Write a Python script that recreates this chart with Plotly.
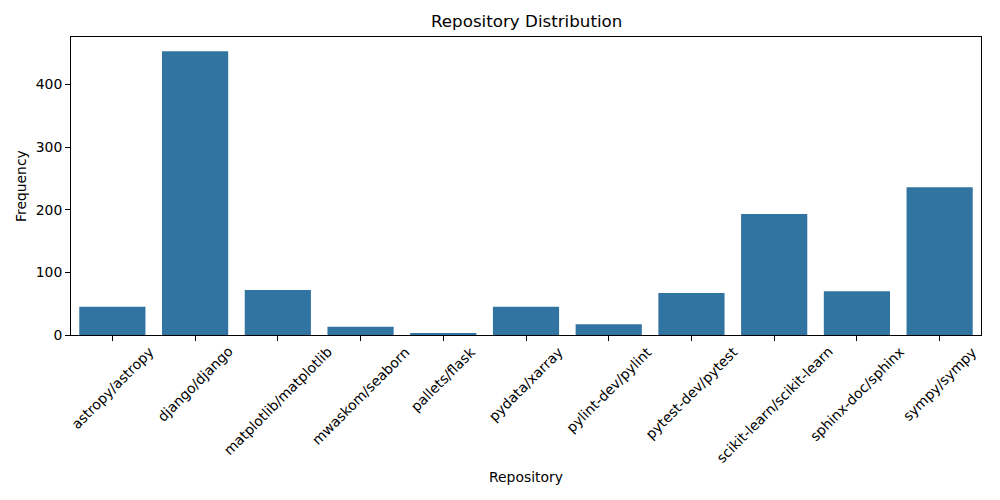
import plotly.graph_objects as go

repositories = ["astropy/astropy", "django/django", "matplotlib/matplotlib", "mwaskom/seaborn",
                "pallets/flask", "pydata/xarray", "pylint-dev/pylint", "pytest-dev/pytest",
                "scikit-learn/scikit-learn", "sphinx-doc/sphinx", "sympy/sympy"]
frequency = [45, 453, 72, 13, 3, 45, 17, 67, 193, 70, 236]
y_ticks = [0, 100, 200, 300, 400]

FONT = "DejaVu Sans"
x_idx = list(range(len(repositories)))

fig = go.Figure(go.Bar(x=x_idx, y=frequency, width=0.8, marker=dict(color="#3274a1", line=dict(width=0))))

annotations = []
for i, name in enumerate(repositories):
    annotations.append(dict(x=i, y=0, xref="x", yref="paper", text=name, showarrow=False,
                            textangle=-45, xanchor="center", yanchor="top", yshift=-6,
                            font=dict(family=FONT, size=13.9, color="black")))
annotations.append(dict(x=0.5, y=1, xref="paper", yref="paper", text="Repository Distribution",
                        showarrow=False, xanchor="center", yanchor="bottom", yshift=4,
                        font=dict(family=FONT, size=16.7, color="black")))
annotations.append(dict(x=0.5, y=0, xref="paper", yref="paper", text="Repository",
                        showarrow=False, xanchor="center", yanchor="middle", yshift=-142,
                        font=dict(family=FONT, size=13.9, color="black")))
annotations.append(dict(x=0, y=0.5, xref="paper", yref="paper", text="Frequency",
                        showarrow=False, textangle=-90, xanchor="center", yanchor="middle", xshift=-50,
                        font=dict(family=FONT, size=13.9, color="black")))

fig.update_layout(
    width=1000, height=500,
    margin=dict(l=71, r=19, t=37, b=165, pad=0),
    plot_bgcolor="white", paper_bgcolor="white",
    showlegend=False,
    font=dict(family=FONT, size=13.9, color="black"),
    annotations=annotations,
    xaxis=dict(range=[-0.5, len(repositories) - 0.5], tickvals=x_idx, showticklabels=False,
               ticks="outside", ticklen=5, tickwidth=1, tickcolor="black",
               showline=True, linecolor="black", linewidth=1, mirror=True,
               showgrid=False, zeroline=False),
    yaxis=dict(range=[0, 475.65], tickvals=y_ticks, ticks="outside", ticklen=5, tickwidth=1,
               tickcolor="black", showline=True, linecolor="black", linewidth=1, mirror=True,
               showgrid=False, zeroline=False, tickfont=dict(family=FONT, size=13.9, color="black")),
)

fig.write_html("out.html", config={"displayModeBar": False},
               post_script="document.body.style.margin='0';")
